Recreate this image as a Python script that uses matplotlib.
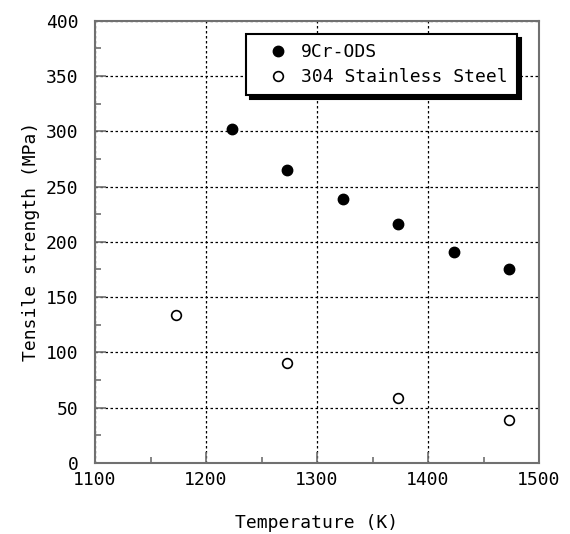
import matplotlib.pyplot as plt
from matplotlib.ticker import MultipleLocator

# Tensile strength vs temperature
temp_ods = [1223, 1273, 1323, 1373, 1423, 1473]
ts_ods = [302, 265, 239, 216, 191, 175]
temp_sus = [1173, 1273, 1373, 1473]
ts_sus = [134, 90, 59, 39]

plt.rcParams["font.family"] = "DejaVu Sans Mono"
plt.rcParams["font.size"] = 13

fig = plt.figure(figsize=(5.7, 5.34), dpi=100)
ax = fig.add_axes([95 / 570, 1 - 463 / 534, 444 / 570, 442.3 / 534])

ax.plot(temp_ods, ts_ods, "o", color="black", markersize=7.5, label="9Cr-ODS")
ax.plot(temp_sus, ts_sus, "o", markerfacecolor="white", markeredgecolor="black",
        markeredgewidth=1.2, markersize=7, label="304 Stainless Steel")

ax.set_xlim(1100, 1500)
ax.set_ylim(0, 400)
ax.xaxis.set_major_locator(MultipleLocator(100))
ax.xaxis.set_minor_locator(MultipleLocator(50))
ax.yaxis.set_major_locator(MultipleLocator(50))
ax.yaxis.set_minor_locator(MultipleLocator(25))

ax.grid(True, which="major", color="black", linestyle=(0, (2, 2)), linewidth=0.9)
ax.tick_params(which="both", direction="in", color="#707070", width=1.2)
ax.tick_params(which="major", length=8)
ax.tick_params(which="minor", length=4)
ax.tick_params(axis="y", pad=12)
ax.tick_params(axis="x", pad=6)
for s in ax.spines.values():
    s.set_color("#707070")
    s.set_linewidth(1.5)

ax.set_xlabel("Temperature (K)", labelpad=18)
ax.set_ylabel("Tensile strength (MPa)", labelpad=4)

leg = ax.legend(loc="upper right", bbox_to_anchor=(0.950, 0.970), borderaxespad=0,
                fancybox=False, framealpha=1, edgecolor="black",
                shadow={"color": "black", "alpha": 1, "ox": 3, "oy": -3},
                handletextpad=0.05, labelspacing=0.4, borderpad=0.5, handlelength=2.5)
leg.get_frame().set_linewidth(1.5)

fig.savefig("out.png", dpi=100)
